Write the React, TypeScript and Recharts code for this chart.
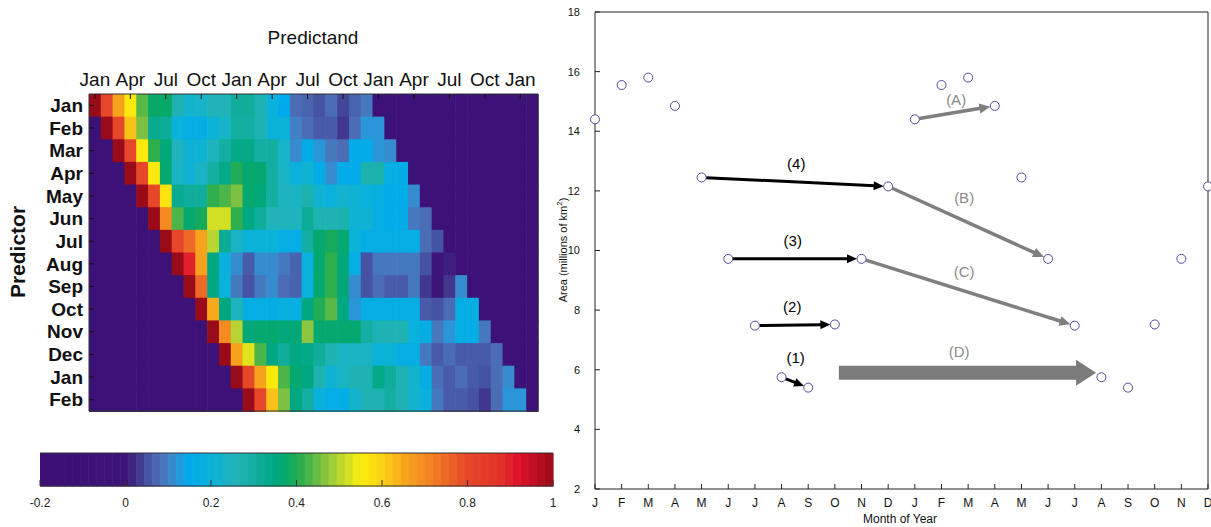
import React from 'react'
import {
  BarChart, Bar, Cell, XAxis, YAxis, ScatterChart, Scatter, ReferenceLine,
} from 'recharts'

const FONT = '"Liberation Sans", Arial, Helvetica, sans-serif'
const NARROW = '"Liberation Sans Narrow", "Arial Narrow", "Liberation Sans", Arial, sans-serif'

// ---------- left panel: lagged correlation heatmap ----------
const predictorMonths = ['Jan', 'Feb', 'Mar', 'Apr', 'May', 'Jun', 'Jul', 'Aug', 'Sep', 'Oct', 'Nov', 'Dec', 'Jan', 'Feb']
const predictandTicks = ['Jan', 'Apr', 'Jul', 'Oct', 'Jan', 'Apr', 'Jul', 'Oct', 'Jan', 'Apr', 'Jul', 'Oct', 'Jan']
const NCOLS = 38

// correlation at lag 0..23 months, one row per predictor month
const rJan = [1.0, 0.8, 0.66, 0.56, 0.44, 0.38, 0.38, 0.27, 0.22, 0.23, 0.26, 0.26, 0.31, 0.31, 0.27, 0.19, 0.15, 0.08, 0.07, 0.05, 0.08, 0.04, 0.07, 0.09]
const rFeb = [1.0, 0.8, 0.62, 0.46, 0.33, 0.32, 0.19, 0.17, 0.17, 0.2, 0.23, 0.3, 0.3, 0.27, 0.2, 0.2, 0.1, 0.08, 0.06, 0.06, 0.03, 0.08, 0.12, 0.12]
const rMar = [1.0, 0.8, 0.56, 0.41, 0.36, 0.25, 0.21, 0.21, 0.25, 0.3, 0.34, 0.34, 0.3, 0.3, 0.23, 0.11, 0.16, 0.12, 0.09, 0.08, 0.16, 0.16, 0.12, 0.11]
const rApr = [1.0, 0.8, 0.56, 0.37, 0.24, 0.21, 0.24, 0.3, 0.34, 0.4, 0.37, 0.37, 0.3, 0.24, 0.19, 0.21, 0.16, 0.11, 0.16, 0.16, 0.28, 0.28, 0.17, 0.16]
const rMay = [1.0, 0.8, 0.57, 0.33, 0.31, 0.31, 0.41, 0.43, 0.46, 0.37, 0.36, 0.3, 0.25, 0.24, 0.28, 0.21, 0.19, 0.22, 0.21, 0.19, 0.18, 0.16, 0.16, 0.11]
const rJun = [1.0, 0.7, 0.43, 0.37, 0.39, 0.52, 0.52, 0.41, 0.35, 0.31, 0.26, 0.25, 0.25, 0.32, 0.27, 0.27, 0.28, 0.21, 0.21, 0.17, 0.16, 0.16, 0.09, 0.08]
const rJul = [1.0, 0.8, 0.75, 0.66, 0.5, 0.32, 0.24, 0.2, 0.2, 0.2, 0.17, 0.17, 0.3, 0.37, 0.39, 0.37, 0.2, 0.17, 0.17, 0.17, 0.17, 0.17, 0.08, 0.05]
const rAug = [1.0, 0.9, 0.66, 0.35, 0.19, 0.11, 0.06, 0.11, 0.11, 0.09, 0.07, 0.19, 0.37, 0.41, 0.36, 0.17, 0.05, 0.09, 0.09, 0.09, 0.09, 0.05, -0.01, 0.01]
const rSep = [1.0, 0.75, 0.35, 0.19, 0.09, 0.05, 0.09, 0.11, 0.08, 0.07, 0.19, 0.37, 0.41, 0.36, 0.11, 0.05, 0.08, 0.06, 0.06, 0.09, 0.03, -0.01, 0.03, 0.11]
const rOct = [1.0, 0.65, 0.35, 0.25, 0.17, 0.17, 0.17, 0.18, 0.18, 0.35, 0.4, 0.44, 0.35, 0.12, 0.17, 0.17, 0.17, 0.17, 0.17, 0.06, 0.05, 0.08, 0.17, 0.17]
const rNov = [1.0, 0.7, 0.5, 0.36, 0.37, 0.37, 0.36, 0.36, 0.47, 0.37, 0.37, 0.37, 0.37, 0.3, 0.27, 0.27, 0.27, 0.19, 0.17, 0.09, 0.12, 0.17, 0.17, 0.09]
const rDec = [1.0, 0.66, 0.53, 0.43, 0.35, 0.31, 0.35, 0.34, 0.31, 0.27, 0.24, 0.24, 0.24, 0.2, 0.2, 0.17, 0.17, 0.09, 0.06, 0.08, 0.06, 0.06, 0.06, 0.08]
const rJan2 = [1.0, 0.8, 0.66, 0.56, 0.43, 0.37, 0.35, 0.27, 0.21, 0.24, 0.27, 0.27, 0.34, 0.31, 0.27, 0.22, 0.17, 0.08, 0.06, 0.08, 0.06, 0.05, 0.08, 0.11]
const rFeb2 = [1.0, 0.8, 0.62, 0.46, 0.35, 0.3, 0.19, 0.17, 0.17, 0.22, 0.27, 0.27, 0.3, 0.27, 0.22, 0.19, 0.09, 0.06, 0.06, 0.05, 0.03, 0.08, 0.12, 0.12]
const corrRows = [rJan, rFeb, rMar, rApr, rMay, rJun, rJul, rAug, rSep, rOct, rNov, rDec, rJan2, rFeb2]

const colorbarTicks = [-0.2, 0, 0.2, 0.4, 0.6, 0.8, 1]
const CB_MIN = -0.2
const CB_MAX = 1
const CB_LEVELS = 64

// jet-like colour scale, -0.2 .. 1
const colorStops: [number, string][] = [
  [-0.2, '#3c0f73'], [0.0, '#3d1478'], [0.02, '#3e2a82'], [0.05, '#4652a2'],
  [0.08, '#4a6db6'], [0.1, '#4282c4'], [0.12, '#2a95d8'], [0.15, '#00abed'],
  [0.2, '#0bb2d8'], [0.26, '#22b3b8'], [0.31, '#10ad9c'], [0.35, '#00a882'],
  [0.38, '#08a866'], [0.41, '#2eaf4c'], [0.44, '#5ab847'], [0.47, '#8dc63f'],
  [0.51, '#c6d92b'], [0.55, '#fbef0c'], [0.6, '#fcd116'], [0.65, '#f7a81b'],
  [0.7, '#f38b20'], [0.75, '#ee6925'], [0.8, '#e6472a'], [0.87, '#e4362a'],
  [0.92, '#e0112c'], [1.0, '#990b18'],
]
const BG = '#3d1278'

const hex = (h: string) => [1, 3, 5].map((i) => parseInt(h.slice(i, i + 2), 16))
function corrColor(v: number) {
  if (v <= colorStops[0][0]) return colorStops[0][1]
  for (let i = 1; i < colorStops.length; i++) {
    const [v1, c1] = colorStops[i]
    if (v <= v1) {
      const [v0, c0] = colorStops[i - 1]
      const t = (v - v0) / (v1 - v0)
      const a = hex(c0), b = hex(c1)
      return `rgb(${a.map((x, k) => Math.round(x + (b[k] - x) * t)).join(',')})`
    }
  }
  return colorStops[colorStops.length - 1][1]
}

function cellColor(row: number, col: number) {
  const lag = col - row
  const r = corrRows[row]
  if (lag < 0 || lag >= r.length) return BG
  return corrColor(r[lag])
}

const cols = Array.from({ length: NCOLS }, (_, c) => c)
const heatData = predictorMonths.map((_, i) => {
  const o: Record<string, number> = { row: i }
  cols.forEach((c) => { o['c' + c] = 1 })
  return o
})
const topTicks = predictandTicks.map((_, i) => i * 3 + 0.5)

const cellShape = (p: any) => (
  <rect x={p.x} y={p.y} width={p.width + 0.6} height={p.height + 0.6} fill={p.fill} />
)
const noShape = () => <g />

const frame = { stroke: '#333' }
const tickStroke = { stroke: '#111' }

function Heatmap() {
  return (
    <BarChart
      width={560}
      height={420}
      data={heatData}
      layout="vertical"
      barCategoryGap={0}
      barGap={0}
      margin={{ top: 70, right: 21, bottom: 8, left: 29 }}
    >
      {cols.map((c) => (
        <Bar key={c} dataKey={'c' + c} stackId="s" isAnimationActive={false} shape={cellShape}>
          {heatData.map((_, i) => <Cell key={i} fill={cellColor(i, c)} />)}
        </Bar>
      ))}
      <Bar xAxisId="b" yAxisId="r" dataKey="c0" isAnimationActive={false} shape={noShape} />
      <XAxis
        type="number"
        orientation="top"
        domain={[0, NCOLS]}
        ticks={topTicks}
        interval={0}
        tickFormatter={(v: number) => predictandTicks[Math.round((v - 0.5) / 3)]}
        tickSize={-5}
        tickMargin={13}
        height={24}
        axisLine={frame}
        tickLine={tickStroke}
        tick={{ fontSize: 19, fill: '#111', fontFamily: NARROW }}
      />
      <XAxis
        xAxisId="b"
        type="number"
        orientation="bottom"
        domain={[0, NCOLS]}
        ticks={topTicks}
        tick={false}
        tickSize={-5}
        height={1}
        axisLine={frame}
        tickLine={tickStroke}
      />
      <YAxis
        type="category"
        dataKey="row"
        width={60}
        interval={0}
        tickFormatter={(v: number) => predictorMonths[v]}
        tickSize={-5}
        tickMargin={11}
        axisLine={frame}
        tickLine={tickStroke}
        tick={{ fontSize: 19, fontWeight: 'bold', fill: '#111', fontFamily: NARROW }}
      />
      <YAxis
        yAxisId="r"
        type="category"
        dataKey="row"
        orientation="right"
        width={1}
        tick={false}
        tickSize={-5}
        axisLine={frame}
        tickLine={tickStroke}
      />
    </BarChart>
  )
}

// colour bar: one row of 64 equal colour levels
const levels = Array.from({ length: CB_LEVELS }, (_, i) => i)
const levelColor = (i: number) => corrColor(CB_MIN + ((i + 0.5) * (CB_MAX - CB_MIN)) / CB_LEVELS)
const barRow = [Object.fromEntries([['row', 0], ...levels.map((i) => ['l' + i, 1])])]
const toLevel = (v: number) => ((v - CB_MIN) / (CB_MAX - CB_MIN)) * CB_LEVELS
const cbTickPos = colorbarTicks.map(toLevel)
const cbLabel = (p: number) => {
  const v = CB_MIN + (p / CB_LEVELS) * (CB_MAX - CB_MIN)
  return String(Math.round(v * 10) / 10)
}

function Colorbar() {
  return (
    <BarChart
      width={560}
      height={63}
      data={barRow}
      layout="vertical"
      barCategoryGap={0}
      barGap={0}
      margin={{ top: 0, right: 27, bottom: 7, left: 20 }}
    >
      {levels.map((i) => (
        <Bar key={i} dataKey={'l' + i} stackId="s" isAnimationActive={false} shape={cellShape} fill={levelColor(i)} />
      ))}
      <Bar xAxisId="t" yAxisId="h" dataKey="l0" isAnimationActive={false} shape={noShape} />
      <XAxis
        type="number"
        domain={[0, CB_LEVELS]}
        ticks={cbTickPos}
        interval={0}
        tickFormatter={cbLabel}
        tickSize={-6}
        tickMargin={18}
        height={22}
        axisLine={frame}
        tickLine={{ stroke: '#333' }}
        tick={{ fontSize: 12, fill: '#222', fontFamily: NARROW }}
      />
      <XAxis
        xAxisId="t"
        type="number"
        orientation="top"
        domain={[0, CB_LEVELS]}
        ticks={cbTickPos}
        tick={false}
        tickSize={-6}
        height={1}
        axisLine={frame}
        tickLine={{ stroke: '#333' }}
      />
      <YAxis type="category" dataKey="row" hide />
      <YAxis yAxisId="h" type="category" dataKey="row" hide />
    </BarChart>
  )
}

// ---------- right panel: seasonal sea-ice area ----------
const monthLetters = ['J', 'F', 'M', 'A', 'M', 'J', 'J', 'A', 'S', 'O', 'N', 'D', 'J', 'F', 'M', 'A', 'M', 'J', 'J', 'A', 'S', 'O', 'N', 'D']
const areaValues = [14.4, 15.55, 15.8, 14.85, 12.45, 9.72, 7.48, 5.75, 5.4, 7.52, 9.72, 12.15,
  14.4, 15.55, 15.8, 14.85, 12.45, 9.72, 7.48, 5.75, 5.4, 7.52, 9.72, 12.15]
const areaTicks = [2, 4, 6, 8, 10, 12, 14, 16, 18]
const monthIdx = monthLetters.map((_, i) => i)
const points = areaValues.map((v, m) => ({ m, v }))

// arrows between months (indices into areaValues)
const blackArrows = [
  { from: 7, to: 8 },
  { from: 6, to: 9 },
  { from: 5, to: 10 },
  { from: 4, to: 11 },
]
const grayArrows = [
  { from: 12, to: 15 },
  { from: 11, to: 17 },
  { from: 10, to: 18 },
]
const bigArrow = { x1: 9.15, x2: 18.8, y: 5.9 }

const arrowLabels = [
  { m: 7.55, v: 12.93, text: '(4)', color: '#000' },
  { m: 7.42, v: 10.35, text: '(3)', color: '#000' },
  { m: 7.4, v: 8.13, text: '(2)', color: '#000' },
  { m: 7.53, v: 6.42, text: '(1)', color: '#000' },
  { m: 13.55, v: 15.08, text: '(A)', color: '#8a8a8a' },
  { m: 13.85, v: 11.79, text: '(B)', color: '#8a8a8a' },
  { m: 13.85, v: 9.28, text: '(C)', color: '#8a8a8a' },
  { m: 13.66, v: 6.62, text: '(D)', color: '#8a8a8a' },
]

const makeArrow = (color: string, w: number, headLen: number, headHalf: number, trim0: number, trim1: number) =>
  (p: any) => {
    const x1 = +p.x1, y1 = +p.y1, x2 = +p.x2, y2 = +p.y2
    const dx = x2 - x1, dy = y2 - y1
    const len = Math.hypot(dx, dy) || 1
    const ux = dx / len, uy = dy / len
    const sx = x1 + ux * trim0, sy = y1 + uy * trim0
    const ex = x2 - ux * trim1, ey = y2 - uy * trim1
    const bx = ex - ux * headLen, by = ey - uy * headLen
    const nx = -uy, ny = ux
    return (
      <g>
        <line x1={sx} y1={sy} x2={bx + ux} y2={by + uy} stroke={color} strokeWidth={w} />
        <polygon
          points={`${ex},${ey} ${bx + nx * headHalf},${by + ny * headHalf} ${bx - nx * headHalf},${by - ny * headHalf}`}
          fill={color}
        />
      </g>
    )
  }

const blackArrowShape = makeArrow('#000', 3, 10, 4.5, 4.5, 4.5)
const grayArrowShape = makeArrow('#7f7f7f', 3.5, 11, 5, 4.5, 4.5)
const bigArrowShape = makeArrow('#7b7b7b', 14, 20, 13, 0, 0)

const pointShape = (p: any) => (
  <circle cx={p.cx} cy={p.cy} r={4.5} fill="#fff" stroke="#5548a0" strokeWidth={1} />
)
const labelShape = (p: any) => (
  <text x={p.cx} y={p.cy} textAnchor="middle" dominantBaseline="central" fontSize={15} fill={p.payload.color} fontFamily={FONT}>
    {p.payload.text}
  </text>
)

function IceChart() {
  return (
    <ScatterChart width={666} height={527} margin={{ top: 11, right: 2, bottom: 18, left: 20 }}>
      <XAxis
        type="number"
        dataKey="m"
        domain={[0, 23]}
        ticks={monthIdx}
        interval={0}
        tickFormatter={(i: number) => monthLetters[i]}
        tickSize={-5}
        tickMargin={14}
        height={20}
        axisLine={{ stroke: '#222' }}
        tickLine={{ stroke: '#222' }}
        tick={{ fontSize: 12, fill: '#111', fontFamily: FONT }}
      />
      <XAxis
        xAxisId="top"
        type="number"
        dataKey="m"
        orientation="top"
        domain={[0, 23]}
        ticks={monthIdx}
        tick={false}
        tickSize={-5}
        height={1}
        axisLine={{ stroke: '#222' }}
        tickLine={{ stroke: '#222' }}
      />
      <YAxis
        type="number"
        dataKey="v"
        domain={[2, 18]}
        ticks={areaTicks}
        interval={0}
        tickSize={-5}
        tickMargin={20}
        width={30}
        axisLine={{ stroke: '#222' }}
        tickLine={{ stroke: '#222' }}
        tick={{ fontSize: 11, fill: '#111', fontFamily: FONT }}
      />
      <YAxis
        yAxisId="right"
        type="number"
        dataKey="v"
        orientation="right"
        domain={[2, 18]}
        ticks={areaTicks}
        tick={false}
        tickSize={-5}
        width={1}
        axisLine={{ stroke: '#222' }}
        tickLine={{ stroke: '#222' }}
      />
      {blackArrows.map((a, i) => (
        <ReferenceLine
          key={'b' + i}
          segment={[{ x: a.from, y: areaValues[a.from] }, { x: a.to, y: areaValues[a.to] }]}
          shape={blackArrowShape}
        />
      ))}
      {grayArrows.map((a, i) => (
        <ReferenceLine
          key={'g' + i}
          segment={[{ x: a.from, y: areaValues[a.from] }, { x: a.to, y: areaValues[a.to] }]}
          shape={grayArrowShape}
        />
      ))}
      <ReferenceLine
        segment={[{ x: bigArrow.x1, y: bigArrow.y }, { x: bigArrow.x2, y: bigArrow.y }]}
        shape={bigArrowShape}
      />
      <Scatter data={points} xAxisId="top" yAxisId="right" shape={noShape} isAnimationActive={false} />
      <Scatter data={points} shape={pointShape} isAnimationActive={false} />
      <Scatter data={arrowLabels} shape={labelShape} isAnimationActive={false} />
    </ScatterChart>
  )
}

export default function App() {
  return (
    <div
      style={{
        position: 'absolute', left: 0, top: 0, width: 1211, height: 527,
        background: '#fff', fontFamily: FONT, overflow: 'hidden', color: '#111',
      }}
    >
      <div style={{ position: 'absolute', left: 0, top: 0 }}>
        <Heatmap />
      </div>
      <div style={{ position: 'absolute', left: 313, top: 38, transform: 'translate(-50%, -50%)', fontSize: 19, whiteSpace: 'nowrap' }}>
        Predictand
      </div>
      <div
        style={{
          position: 'absolute', left: 18, top: 252, transform: 'translate(-50%, -50%) rotate(-90deg)',
          fontSize: 21, fontWeight: 'bold', whiteSpace: 'nowrap',
        }}
      >
        Predictor
      </div>
      <div style={{ position: 'absolute', left: 20, top: 452 }}>
        <Colorbar />
      </div>
      <div style={{ position: 'absolute', left: 545, top: 0 }}>
        <IceChart />
      </div>
      <div
        style={{
          position: 'absolute', left: 563, top: 250, transform: 'translate(-50%, -50%) rotate(-90deg)',
          fontSize: 11, whiteSpace: 'nowrap', lineHeight: '12px',
        }}
      >
        Area (millions of km<sup style={{ fontSize: 8, lineHeight: 0 }}>2</sup>)
      </div>
      <div style={{ position: 'absolute', left: 900, top: 519, transform: 'translate(-50%, -50%)', fontSize: 12, whiteSpace: 'nowrap' }}>
        Month of Year
      </div>
    </div>
  )
}
